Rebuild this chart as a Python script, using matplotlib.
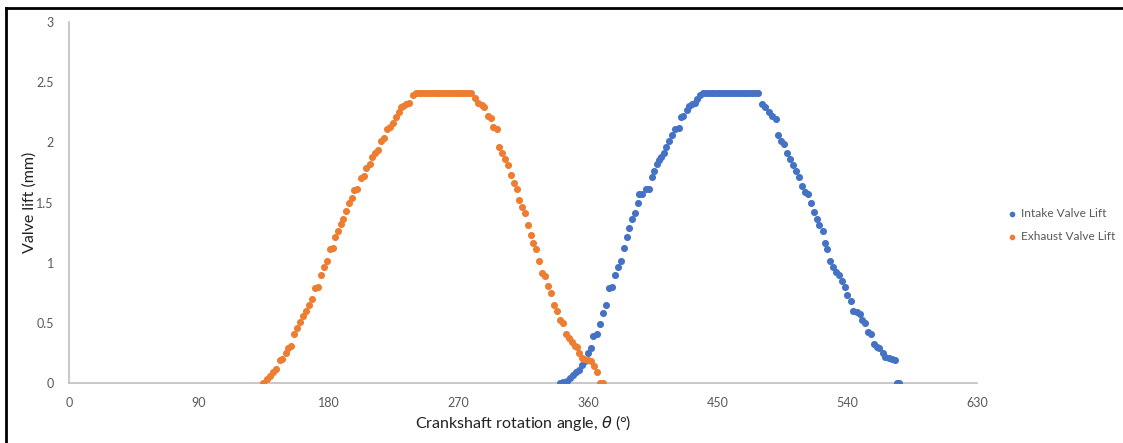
import numpy as np
import matplotlib
matplotlib.use('Agg')
import matplotlib.pyplot as plt
from matplotlib.lines import Line2D

plt.rcParams['font.family'] = ['Lato', 'DejaVu Sans']
plt.rcParams['mathtext.fontset'] = 'dejavusans'

# exhaust valve lift (orange)
exhaust_angle = [134.9, 137.2, 139.5, 141.8, 143.6, 146.4, 148.0, 150.4, 152.2, 154.1,
                 156.4, 158.5, 160.5, 162.6, 164.7, 166.5, 168.8, 170.7, 172.6, 174.9,
                 177.0, 179.0, 181.1, 183.0, 184.4, 186.5, 188.5, 190.4, 192.2, 194.5,
                 196.6, 198.0, 200.1, 202.6, 204.5, 206.3, 208.7, 210.5, 212.4, 214.7,
                 216.5, 218.6, 220.9, 223.0, 224.8, 227.1, 228.7, 230.2, 232.0, 233.9,
                 236.2, 238.5,
                 241, 243, 245, 247, 249, 251, 253, 255, 257, 259,
                 261, 263, 265, 267, 269, 271, 273, 275, 277, 279,
                 281.7, 284.0, 286.4, 288.2, 291.0, 292.6, 294.5, 296.8, 298.6, 300.7,
                 302.8, 304.9, 307.0, 308.8, 311.1, 312.3, 314.2, 316.2, 318.3, 320.4,
                 322.2, 324.3, 326.4, 328.3, 330.6, 332.4, 334.5, 336.8, 338.9, 340.5,
                 343.0, 344.7, 346.8, 348.8, 350.9, 352.7, 353.9, 355.8, 357.6, 359.9,
                 362.3, 364.3, 366.2, 368.5, 370.8]
exhaust_lift = [0.00, 0.03, 0.06, 0.09, 0.12, 0.19, 0.20, 0.25, 0.29, 0.31,
                0.41, 0.46, 0.51, 0.56, 0.60, 0.65, 0.70, 0.79, 0.80, 0.90,
                0.96, 1.01, 1.11, 1.12, 1.21, 1.26, 1.32, 1.36, 1.43, 1.50,
                1.54, 1.60, 1.61, 1.70, 1.72, 1.79, 1.82, 1.88, 1.91, 1.94,
                2.01, 2.04, 2.11, 2.13, 2.16, 2.21, 2.25, 2.29, 2.30, 2.32,
                2.33, 2.39,
                2.41, 2.41, 2.41, 2.41, 2.41, 2.41, 2.41, 2.41, 2.41, 2.41,
                2.41, 2.41, 2.41, 2.41, 2.41, 2.41, 2.41, 2.41, 2.41, 2.41,
                2.37, 2.33, 2.31, 2.29, 2.22, 2.20, 2.13, 2.11, 1.96, 1.91,
                1.86, 1.81, 1.73, 1.66, 1.61, 1.52, 1.46, 1.41, 1.31, 1.23,
                1.16, 1.11, 1.01, 0.91, 0.89, 0.81, 0.75, 0.65, 0.60, 0.52,
                0.50, 0.41, 0.37, 0.34, 0.31, 0.30, 0.25, 0.21, 0.20, 0.19,
                0.18, 0.14, 0.09, 0.00, 0.00]

# intake valve lift (blue)
intake_angle = [340.7, 343.0, 345.4, 347.7, 349.5, 351.8, 354.1, 356.0, 358.1, 359.9,
                362.3, 363.9, 366.2, 368.5, 370.4, 372.7, 374.7, 376.8, 378.9, 380.8,
                382.9, 384.9, 387.0, 388.8, 390.9, 393.0, 395.1, 395.8, 397.8, 400.4,
                402.3, 404.4, 406.2, 407.8, 409.2, 410.8, 412.7, 414.5, 416.6, 418.5,
                420.8, 422.9, 424.5, 426.3, 428.7, 430.5, 432.3, 434.2, 436.0, 437.9,
                440, 442, 444, 446, 448, 450, 452, 454, 456, 458,
                460, 462, 464, 466, 468, 470, 472, 474, 476, 478,
                480.7, 483.0, 486.0, 488.1, 490.2, 492.2, 494.3, 496.4, 498.5, 500.3,
                502.2, 504.5, 506.6, 508.4, 510.7, 512.6, 514.7, 517.0, 518.8, 520.7,
                523.0, 524.2, 526.0, 528.1, 530.2, 532.3, 534.4, 536.2, 538.3, 540.1,
                542.5, 544.3, 546.6, 548.5, 550.5, 552.6, 554.5, 556.8, 558.6, 560.5,
                562.3, 564.7, 566.5, 568.6, 570.7, 572.8, 574.5, 576.0]
intake_lift = [0.00, 0.01, 0.02, 0.04, 0.07, 0.09, 0.11, 0.15, 0.18, 0.25,
               0.29, 0.39, 0.41, 0.49, 0.58, 0.65, 0.79, 0.80, 0.90, 0.96,
               1.01, 1.12, 1.21, 1.29, 1.36, 1.41, 1.50, 1.57, 1.57, 1.61,
               1.61, 1.71, 1.76, 1.82, 1.85, 1.88, 1.91, 1.96, 2.01, 2.06,
               2.11, 2.12, 2.21, 2.22, 2.27, 2.30, 2.32, 2.33, 2.36, 2.39,
               2.41, 2.41, 2.41, 2.41, 2.41, 2.41, 2.41, 2.41, 2.41, 2.41,
               2.41, 2.41, 2.41, 2.41, 2.41, 2.41, 2.41, 2.41, 2.41, 2.41,
               2.32, 2.29, 2.25, 2.22, 2.19, 2.06, 2.01, 1.99, 1.91, 1.86,
               1.81, 1.76, 1.71, 1.64, 1.59, 1.57, 1.50, 1.42, 1.36, 1.31,
               1.26, 1.16, 1.11, 1.01, 0.96, 0.92, 0.90, 0.85, 0.80, 0.73,
               0.68, 0.60, 0.59, 0.57, 0.52, 0.50, 0.42, 0.41, 0.32, 0.30,
               0.29, 0.25, 0.22, 0.21, 0.20, 0.19, 0.00, 0.00]

x_ticks = [0, 90, 180, 270, 360, 450, 540, 630]
y_ticks = [0, 0.5, 1, 1.5, 2, 2.5, 3]

blue = '#4472C4'
orange = '#ED7D31'
grey_txt = '#595959'

fig = plt.figure(figsize=(11.23, 4.43), dpi=100)
ax = fig.add_axes([69/1123, 60/443, 908/1123, 361/443])

ax.scatter(intake_angle, intake_lift, s=26, color=blue, linewidths=0, label='Intake Valve Lift', zorder=3)
ax.scatter(exhaust_angle, exhaust_lift, s=26, color=orange, linewidths=0, label='Exhaust Valve Lift', zorder=3)

ax.set_xlim(0, 630)
ax.set_ylim(0, 3)
ax.set_xticks(x_ticks)
ax.set_yticks(y_ticks)
ax.set_yticklabels(['0', '0.5', '1', '1.5', '2', '2.5', '3'])
ax.tick_params(length=0, labelsize=9, colors=grey_txt, pad=11)
ax.tick_params(axis='x', pad=10)

for side in ['top', 'right']:
    ax.spines[side].set_visible(False)
for side in ['left', 'bottom']:
    ax.spines[side].set_color('#BFBFBF')
    ax.spines[side].set_linewidth(1.2)

ax.set_xlabel(r'Crankshaft rotation angle, $\theta$ (°)', fontsize=11.5, color='#222222')
ax.set_ylabel('Valve lift (mm)', fontsize=11.5, color='#222222')
ax.xaxis.set_label_coords(0.5, -0.083)
ax.yaxis.set_label_coords(-0.036, 0.5)

leg = ax.legend(loc='center left', bbox_to_anchor=(1005/1123, 1 - 225/443), bbox_transform=fig.transFigure,
                frameon=False, fontsize=8.6, handlelength=0.4, handletextpad=0.5, labelspacing=1.0,
                markerscale=0.8, borderaxespad=0)
for t in leg.get_texts():
    t.set_color(grey_txt)

# frame lines at top and left like the screenshot
fig.add_artist(Line2D([6/1123, 1], [1 - 8/443, 1 - 8/443], transform=fig.transFigure, color='black', lw=2))
fig.add_artist(Line2D([6/1123, 6/1123], [0, 1 - 8/443], transform=fig.transFigure, color='black', lw=2))

fig.savefig('out.png', dpi=100)
